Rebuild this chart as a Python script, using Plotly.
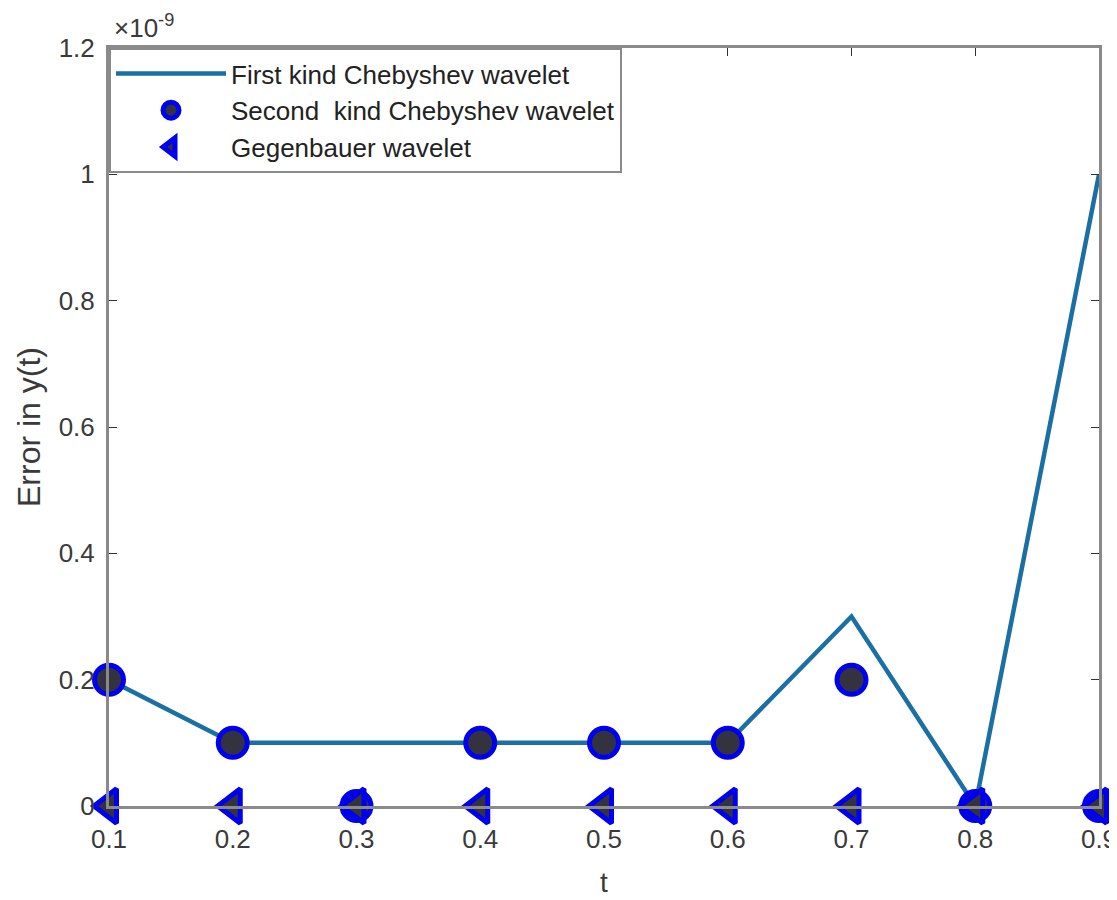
import plotly.graph_objects as go

t = [0.1, 0.2, 0.3, 0.4, 0.5, 0.6, 0.7, 0.8, 0.9]
first_kind = [0.2e-9, 0.1e-9, 0.1e-9, 0.1e-9, 0.1e-9, 0.1e-9, 0.3e-9, 0.0, 1.0e-9]
second_kind = [0.2e-9, 0.1e-9, 0.0, 0.1e-9, 0.1e-9, 0.1e-9, 0.2e-9, 0.0, 0.0]
gegenbauer = [0.0, 0.0, 0.0, 0.0, 0.0, 0.0, 0.0, 0.0, 0.0]

x_ticks = [0.1, 0.2, 0.3, 0.4, 0.5, 0.6, 0.7, 0.8, 0.9]
x_ticktext = ["0.1", "0.2", "0.3", "0.4", "0.5", "0.6", "0.7", "0.8", "0.9"]
y_ticks_scaled = [0, 0.2, 0.4, 0.6, 0.8, 1, 1.2]
y_ticktext = ["0", "0.2", "0.4", "0.6", "0.8", "1", "1.2"]
scale = 1e-9

AX = "#8a8a8a"
TXT = "#3a3a3a"
FONT = "Liberation Sans, Arial, sans-serif"

fig = go.Figure()
fig.add_trace(go.Scatter(
    x=t, y=first_kind, mode="lines", name="First kind Chebyshev wavelet",
    line=dict(color="#1a6fa3", width=4.5), cliponaxis=False))
fig.add_trace(go.Scatter(
    x=t, y=second_kind, mode="markers", name="Second  kind Chebyshev wavelet",
    marker=dict(symbol="circle", size=29, color="#333340",
                line=dict(color="#0000ee", width=5)), cliponaxis=False))
fig.add_trace(go.Scatter(
    x=t, y=gegenbauer, mode="markers", name="Gegenbauer wavelet",
    marker=dict(symbol="triangle-left", size=30, color="#333340",
                line=dict(color="#0000ee", width=5)), cliponaxis=False))

# page body has an 8px default margin, so the figure is sized to fit
fig.update_layout(
    width=1109, height=892,
    margin=dict(l=101, r=18, t=40, b=94, autoexpand=False),
    paper_bgcolor="white", plot_bgcolor="white",
    font=dict(family=FONT, size=24, color=TXT),
    showlegend=True,
    legend=dict(x=0.0, y=1.0, xanchor="left", yanchor="top",
                bgcolor="white", bordercolor=AX, borderwidth=2,
                font=dict(size=26, color="#222222"),
                itemwidth=110, tracegroupgap=0),
    xaxis=dict(range=[0.1, 0.9], tickvals=x_ticks, ticktext=x_ticktext,
               showgrid=False, zeroline=False, showline=True, linecolor=AX,
               linewidth=3, mirror="ticks", ticks="inside", ticklen=8,
               tickcolor="#333333", tickwidth=1, automargin=False,
               ticklabelstandoff=8, ticklabeloverflow="allow",
               tickfont=dict(size=26, color=TXT),
               title=dict(text="t", font=dict(size=28, color=TXT), standoff=20)),
    yaxis=dict(range=[0, 1.2e-9], tickvals=[v * scale for v in y_ticks_scaled],
               ticktext=y_ticktext, automargin=False,
               showgrid=False, zeroline=False, showline=True, linecolor=AX,
               linewidth=3, mirror="ticks", ticks="inside", ticklen=8,
               tickcolor="#333333", tickwidth=1, ticklabelstandoff=6,
               ticklabeloverflow="allow",
               tickfont=dict(size=26, color=TXT),
               title=dict(text="Error in y(t)", font=dict(size=32, color=TXT), standoff=9)),
)

fig.add_annotation(text="×10<sup>-9</sup>", xref="paper", yref="paper",
                   x=0.0, y=1.0, xanchor="left", yanchor="bottom", yshift=3, xshift=3,
                   showarrow=False, font=dict(size=26, color=TXT))

fig.write_html("out.html")
